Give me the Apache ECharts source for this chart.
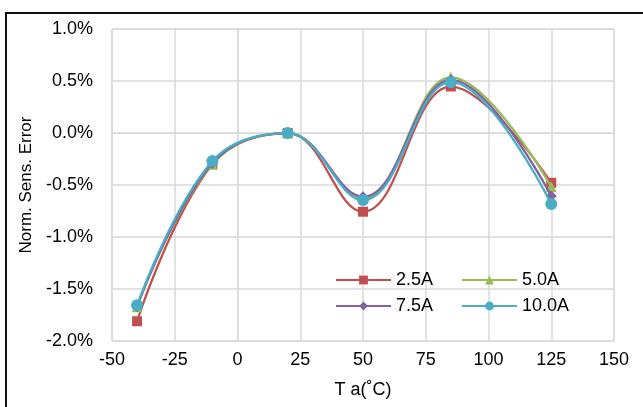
<!DOCTYPE html>
<html>
<head>
<meta charset="utf-8">
<script src="https://cdn.jsdelivr.net/npm/echarts@6/dist/echarts.min.js"></script>
<style>
    html, body { margin: 0; padding: 0; background: #fff; }
    #frame { position: absolute; left: 5px; top: 12px; width: 660px; height: 420px; border: 2px solid #111; box-sizing: border-box; }
    #chart { position: absolute; left: 0; top: 0; width: 643px; height: 407px; }
</style>
</head>
<body>
<div id="frame"></div>
<div id="chart"></div>
<script>
// 温度 (°C)
const temps = [-40, -10, 20, 50, 85, 125];

// 各电流下的归一化灵敏度误差 (%)
const err25 = [-1.81, -0.30, 0, -0.757, 0.447, -0.479];
const err50 = [-1.67, -0.30, 0, -0.625, 0.536, -0.517];
const err75 = [-1.67, -0.29, 0, -0.613, 0.51, -0.606];
const err100 = [-1.657, -0.27, 0, -0.645, 0.489, -0.683];

const seriesNames = ['2.5A', '5.0A', '7.5A', '10.0A'];
const colors = ['#C0504D', '#9BBB59', '#8064A2', '#4BACC6'];
const symbols = ['rect', 'triangle', 'diamond', 'circle'];
const symbolSizes = [10, 11, 11, 12];

const font = 'Liberation Sans, Arial, sans-serif';
const fs = 18;

const chart = echarts.init(document.getElementById('chart'));

const allData = [err25, err50, err75, err100];

const legendCommon = {
    left: 330,
    itemWidth: 55,
    itemHeight: 11,
    itemGap: 28,
    textStyle: { fontFamily: font, fontSize: fs, color: '#000', padding: [0, 0, 0, 0] },
};

const option = {
    animation: false,
    backgroundColor: 'transparent',
    grid: {
        left: 112,
        right: 29,
        top: 29,
        bottom: 66,
        show: true,
        borderColor: '#d9d9d9',
        borderWidth: 1,
    },
    legend: [
        Object.assign({ top: 266, data: ['2.5A', '5.0A'] }, legendCommon),
        Object.assign({ top: 292, data: ['7.5A', '10.0A'] }, legendCommon),
    ],
    xAxis: {
        type: 'value',
        min: -50,
        max: 150,
        interval: 25,
        name: 'T a(˚C)',
        nameLocation: 'middle',
        nameGap: 40,
        nameTextStyle: { fontFamily: font, fontSize: fs, color: '#000' },
        axisLine: { show: true, lineStyle: { color: '#d9d9d9' } },
        axisTick: { show: false },
        axisLabel: { fontFamily: font, fontSize: fs, color: '#000', margin: 10 },
        splitLine: { show: true, lineStyle: { color: '#d9d9d9', width: 1.5 } },
    },
    yAxis: {
        type: 'value',
        min: -2.0,
        max: 1.0,
        interval: 0.5,
        name: 'Norm. Sens. Error',
        nameLocation: 'middle',
        nameGap: 72,
        nameTextStyle: { fontFamily: font, fontSize: fs - 1, color: '#000' },
        axisLine: { show: true, lineStyle: { color: '#d9d9d9' } },
        axisTick: { show: false },
        axisLabel: {
            fontFamily: font,
            fontSize: fs,
            color: '#000',
            margin: 19,
            formatter: function (v) { return v.toFixed(1) + '%'; },
        },
        splitLine: { show: true, lineStyle: { color: '#d9d9d9', width: 1.5 } },
    },
    series: seriesNames.map(function (name, i) {
        return {
            name: name,
            type: 'line',
            smooth: 0.4,
            data: temps.map(function (t, j) { return [t, allData[i][j]]; }),
            symbol: symbols[i],
            symbolSize: symbolSizes[i],
            showAllSymbol: true,
            lineStyle: { color: colors[i], width: 2.25 },
            itemStyle: { color: colors[i] },
            z: 2 + i,
        };
    }),
};

chart.setOption(option);
</script>
</body>
</html>
